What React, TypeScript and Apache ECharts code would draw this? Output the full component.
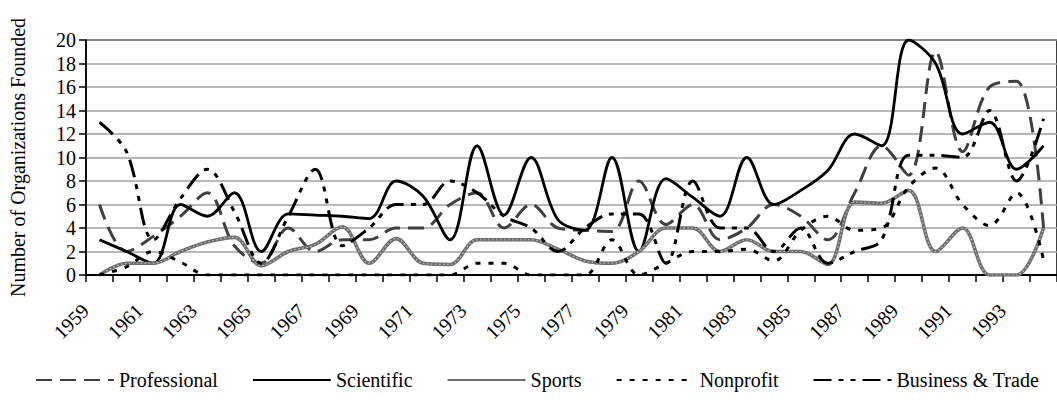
import React, { useEffect, useRef } from "react";
import * as echarts from "echarts";

const years = [
  "1959", "1960", "1961", "1962", "1963", "1964", "1965", "1966", "1967", "1968",
  "1969", "1970", "1971", "1972", "1973", "1974", "1975", "1976", "1977", "1978",
  "1979", "1980", "1981", "1982", "1983", "1984", "1985", "1986", "1987", "1988",
  "1989", "1990", "1991", "1992", "1993", "1994",
];

const professional = [
  6, 2, 3.3, 5, 7, 2.5, 1, 4, 2, 3, 3, 4, 4, 6, 7, 4, 6, 4, 3.8, 3.7,
  8, 4.3, 6, 3, 4, 6, 5, 3, 7, 11, 8.5, 19, 10.5, 16, 16.5, 4,
];
const scientific = [
  3, 2, 1, 6, 5, 7, 2, 5.2, 5.1, 5, 4.8, 8, 6.7, 3, 11, 5.1, 10, 4.7, 3.8, 10,
  2, 8.2, 6.6, 5, 10, 6, 7.2, 8.9, 12, 11, 20, 18, 12, 13, 9, 11,
];
const sports = [
  0, 1, 1, 2, 2.8, 3.2, 0.8, 2, 2.6, 4.1, 1, 3.1, 1, 0.9, 3, 3, 3, 2.2, 1.2, 1,
  2, 4, 4, 2, 3, 2, 2, 0.9, 6.2, 6.1, 7.2, 2, 4, 0, 0, 4,
];
const nonprofit = [
  0, 0.7, 2, 1.1, 0, 0, 0, 0, 0, 0, 0, 0, 0, 0, 1, 1, 0, 0, 0, 3,
  0, 1, 2, 2, 2.2, 1.2, 3.8, 5, 3.8, 4, 7.5, 9.1, 6, 4.2, 7, 1.3,
];
const businessTrade = [
  13, 10.5, 3, 6.5, 9, 5.4, 1, 5, 9, 2.5, 4, 6, 6, 8, 7, 5, 4, 2, 4, 5.2,
  5.2, 1, 8, 4, 4, 2, 4, 1, 2, 3, 10.2, 10.2, 10, 14, 8, 13.3,
];

const legendNames = ["Professional", "Scientific", "Sports", "Nonprofit", "Business & Trade"];
const yTicks = { min: 0, max: 20, interval: 2 };
const FONT = "Liberation Serif";

export default function App() {
  const ref = useRef<HTMLDivElement>(null);

  useEffect(() => {
    if (!ref.current) return;
    const chart = echarts.init(ref.current, null, { renderer: "svg" });
    const smooth = 0.35;
    const base = { type: "line", smooth, symbol: "none", showSymbol: false };
    chart.setOption({
      animation: false,
      backgroundColor: "#ffffff",
      grid: {
        left: 77,
        right: -2,
        top: 40,
        bottom: 136,
        show: true,
        borderColor: "#000",
        borderWidth: 1.5,
      },
      legend: {
        bottom: 16,
        left: 30,
        itemWidth: 78,
        itemHeight: 10,
        itemGap: 34,
        data: legendNames,
        itemStyle: { opacity: 0 },
        textStyle: { fontFamily: FONT, fontSize: 20, color: "#000" },
      },
      xAxis: {
        type: "category",
        data: years,
        boundaryGap: true,
        axisLine: { lineStyle: { color: "#000", width: 2 } },
        axisTick: { show: true, interval: 0, length: 7, lineStyle: { color: "#000", width: 1.5 } },
        axisLabel: {
          interval: 1,
          rotate: 45,
          margin: 18,
          padding: [0, 20, 0, 0],
          fontFamily: FONT,
          fontSize: 20,
          color: "#000",
        },
        splitLine: { show: false },
      },
      yAxis: {
        type: "value",
        min: yTicks.min,
        max: yTicks.max,
        interval: yTicks.interval,
        name: "Number of Organizations Founded",
        nameLocation: "middle",
        nameRotate: 90,
        nameGap: 58,
        nameTextStyle: { fontFamily: FONT, fontSize: 20, color: "#000" },
        axisLine: { show: true, lineStyle: { color: "#000", width: 1.5 } },
        axisTick: { show: true, length: 7, lineStyle: { color: "#000", width: 1.5 } },
        axisLabel: { fontFamily: FONT, fontSize: 20, color: "#000", margin: 10 },
        splitLine: { show: true, lineStyle: { color: "#a0a0a0", width: 1.5 } },
      },
      series: [
        {
          ...base,
          name: "Professional",
          data: professional,
          color: "#404040",
          lineStyle: { color: "#404040", width: 3, type: [16, 8] },
        },
        {
          ...base,
          name: "Scientific",
          data: scientific,
          color: "#000",
          lineStyle: { color: "#000", width: 2.8, type: "solid" },
        },
        {
          ...base,
          name: "Sports",
          data: sports,
          color: "#6e6e6e",
          lineStyle: { color: "#6e6e6e", width: 3.6 },
        },
        {
          ...base,
          name: "Sports",
          data: sports,
          color: "#6e6e6e",
          lineStyle: { color: "#c4c4c4", width: 1.2, type: [1.5, 2.5] },
        },
        {
          ...base,
          name: "Nonprofit",
          data: nonprofit,
          color: "#000",
          lineStyle: { color: "#000", width: 3, type: [5, 8] },
        },
        {
          ...base,
          name: "Business & Trade",
          data: businessTrade,
          color: "#000",
          lineStyle: { color: "#000", width: 3, type: [18, 7, 5, 7, 5, 7] },
        },
      ],
    });
    return () => chart.dispose();
  }, []);

  return (
    <div
      ref={ref}
      style={{ position: "absolute", left: 0, top: 0, width: 1057, height: 411 }}
    />
  );
}
